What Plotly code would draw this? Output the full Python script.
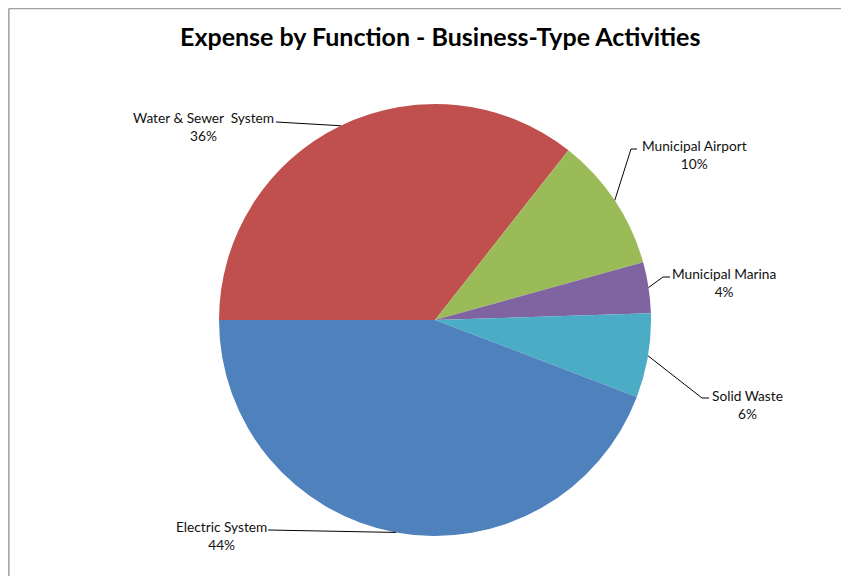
import math
import plotly.graph_objects as go

# ---- data ----
categories = ["Water & Sewer  System", "Municipal Airport", "Municipal Marina", "Solid Waste", "Electric System"]
values = [35.6, 10.1, 3.8, 6.3, 44.2]
colors = ["#C0504D", "#9BBB59", "#8064A2", "#4BACC6", "#4F81BD"]
title_text = "Expense by Function - Business-Type Activities"

# ---- layout constants (pixels, in screenshot coordinates) ----
W, H = 849, 576
OFF = 8  # page body margin
CX, CY, R = 435, 320, 216
START_DEG = 180  # first slice starts at 9 o'clock, going clockwise

# label text centres and leader-line start/elbow points (pixels)
label_pos = [(203, 126), (694, 154), (724, 282), (747, 404), (221, 535)]
leader_start = [(276, 122), (637, 149), (670, 277), (709, 398), (268, 530)]
leader_elbow = [(276, 122), (631, 149), (663, 277), (702, 398), (268, 530)]

def px(x):
    return (x - OFF) / W

def py(y):
    return 1 - (y - OFF) / H

total = sum(values)
fig = go.Figure(go.Pie(
    labels=categories,
    values=values,
    sort=False,
    direction="clockwise",
    rotation=270,
    marker=dict(colors=colors, line=dict(width=0)),
    textinfo="none",
    hoverinfo="label+percent",
    showlegend=False,
    domain=dict(x=[px(CX - R), px(CX + R)], y=[py(CY + R), py(CY - R)]),
))

shapes = []
annotations = []
cum = 0.0
for i, (cat, v) in enumerate(zip(categories, values)):
    mid = cum + v / 2
    cum += v
    ang = math.radians(START_DEG - mid / total * 360)
    ex = CX + R * math.cos(ang)
    ey = CY - R * math.sin(ang)
    sx, sy = leader_start[i]
    bx, by = leader_elbow[i]
    shapes.append(dict(
        type="path", xref="paper", yref="paper",
        path=f"M {px(sx)},{py(sy)} L {px(bx)},{py(by)} L {px(ex)},{py(ey)}",
        line=dict(color="#000000", width=1),
    ))
    pct = round(v / total * 100)
    lx, ly = label_pos[i]
    annotations.append(dict(
        x=px(lx), y=py(ly), xref="paper", yref="paper",
        text=f"{cat}<br>{pct}%", showarrow=False,
        xanchor="center", yanchor="middle", align="center",
        font=dict(family="Lato, Open Sans, sans-serif", size=13.7, color="#111111"),
    ))

# outer chart border (top & left visible)
shapes.append(dict(type="line", xref="paper", yref="paper",
                   x0=0.001, y0=0.999, x1=1.01, y1=0.999,
                   line=dict(color="#a0a0a0", width=1.5)))
shapes.append(dict(type="line", xref="paper", yref="paper",
                   x0=0.001, y0=0.999, x1=0.001, y1=-0.01,
                   line=dict(color="#a0a0a0", width=1.5)))

annotations.append(dict(
    x=px(440), y=py(36), xref="paper", yref="paper",
    text=f"<b>{title_text}</b>", showarrow=False,
    xanchor="center", yanchor="middle",
    font=dict(family="Lato, Open Sans, sans-serif", size=25, color="#000000"),
))

fig.update_layout(
    width=W, height=H,
    margin=dict(l=0, r=0, t=0, b=0),
    paper_bgcolor="white", plot_bgcolor="white",
    shapes=shapes, annotations=annotations,
)

fig.write_html("out.html")
